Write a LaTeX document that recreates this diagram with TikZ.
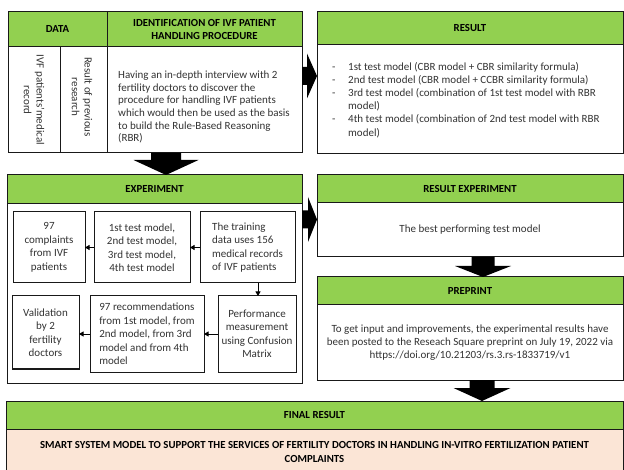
\documentclass[tikz,border=0pt]{standalone}
\usepackage{fontspec}
\setmainfont{Carlito}
\usetikzlibrary{arrows.meta,calc}
\definecolor{hgreen}{HTML}{92D050}
\definecolor{peach}{HTML}{FBE5D6}
\definecolor{txtc}{HTML}{333333}
\tikzset{
  frame/.style={draw=black!90, line width=1pt, inner sep=0pt, outer sep=0pt},
  hdr/.style={frame, fill=hgreen, font=\bfseries\fontsize{10.8}{13.5}\selectfont, text=black, align=center},
  body/.style={frame, fill=white, font=\fontsize{11}{13}\selectfont, text=txtc, align=center},
  btxt/.style={font=\fontsize{11}{12.7}\selectfont, text=txtc, inner sep=0pt},
  ibox/.style={frame, fill=white, font=\fontsize{11}{13.5}\selectfont, text=txtc, align=center},
  sarrow/.style={draw=black, line width=0.8pt, -{Triangle[length=4.5pt,width=5pt]}},
  blk/.style={fill=black},
}
\newcommand{\rbox}[6][]{\node[#1,minimum width={(#5-#3)*1pt},minimum height={(#6-#4)*1pt}] (#2) at ({(#3+#5)/2},{(#4+#6)/2})}
\newcommand{\dblk}[5]{\fill[blk] ($(#1)+(-#3,0)$) -- ($(#1)+(#3,0)$) -- ($(#2)+(#3,-#5)$) -- ($(#2)+(#4,-#5)$) -- (#2) -- ($(#2)+(-#4,-#5)$) -- ($(#2)+(-#3,-#5)$) -- cycle;}
\newcommand{\rblk}[5]{\fill[blk] ($(#1)+(0,-#3)$) -- ($(#2)+(-#5,-#3)$) -- ($(#2)+(-#5,-#4)$) -- (#2) -- ($(#2)+(-#5,#4)$) -- ($(#2)+(-#5,#3)$) -- ($(#1)+(0,#3)$) -- cycle;}
\begin{document}
\begin{tikzpicture}[x=1pt,y=-1pt]
\useasboundingbox (0,0) rectangle (624,470);
% ---------- top left ----------
\rbox[hdr]{hdata}{8}{12}{107}{47} {DATA};
\rbox[hdr]{hident}{107}{12}{302}{47} {IDENTIFICATION OF IVF PATIENT\\HANDLING PROCEDURE};
\rbox[body]{bmed}{8}{47}{60}{153} {};
\rbox[body]{bres}{60}{47}{107}{153} {};
\rbox[body]{bident}{107}{47}{302}{153} {};
\node[btxt, rotate=-90, align=center] (tmed) at (34,100) {IVF patients'medical\\record};
\node[btxt, rotate=-90, align=center] (tres) at (82,97) {Result of previous\\research};
\node[btxt, align=left, anchor=west] (tident) at (118,107) {Having an in-depth interview with 2\\fertility doctors to discover the\\procedure for handling IVF patients\\which would then be used as the basis\\to build the Rule-Based Reasoning\\(RBR)};
% ---------- result ----------
\rbox[hdr]{hres}{317}{12}{623}{45} {RESULT};
\rbox[body]{bres2}{317}{45}{623}{154} {};
\node[btxt, align=left, anchor=west, font=\fontsize{11}{13.1}\selectfont] (tres2) at (332,100) {%
\makebox[16pt][l]{-}1st test model (CBR model + CBR similarity formula)\\
\makebox[16pt][l]{-}2nd test model (CBR model + CCBR similarity formula)\\
\makebox[16pt][l]{-}3rd test model (combination of 1st test model with RBR\\
\hspace*{16pt}model)\\
\makebox[16pt][l]{-}4th test model (combination of 2nd test model with RBR\\
\hspace*{16pt}model)};
% ---------- experiment ----------
\rbox[hdr]{hexp}{7}{175}{302}{204} {EXPERIMENT};
\rbox[body]{bexp}{7}{204}{302}{383} {};
\rbox[ibox]{e1}{13}{212}{85}{283} {97\\complaints\\from IVF\\patients};
\rbox[ibox]{e2}{94}{212}{190}{283} {1st test model,\\2nd test model,\\3rd test model,\\4th test model};
\rbox[ibox, align=left]{e3}{200}{212}{295}{283} {The training\\data uses 156\\medical records\\of IVF patients};
\rbox[ibox]{e4}{12}{296}{79}{369} {Validation\\by 2\\fertility\\doctors};
\rbox[ibox, align=left]{e5}{90}{296}{204}{372} {97 recommendations\\from 1st model, from\\2nd model, from 3rd\\model and from 4th\\model};
\rbox[ibox]{e6}{218}{296}{296}{372} {Performance\\measurement\\using Confusion\\Matrix};
\draw[sarrow] (e3.west) -- (e2.east);
\draw[sarrow] (e2.west) -- (e1.east);
\draw[sarrow] (258,0 |- e3.south) -- (258,0 |- e6.north);
\draw[sarrow] (e6.west) -- (e5.east);
\draw[sarrow] (e5.west) -- (e4.east |- e5.west);
% ---------- right column ----------
\rbox[hdr]{hre}{317}{175}{623}{203} {RESULT EXPERIMENT};
\rbox[body]{bre}{317}{203}{623}{257} {The best performing test model};
\rbox[hdr]{hpp}{317}{277}{623}{305} {PREPRINT};
\rbox[body]{bpp}{317}{305}{623}{380} {To get input and improvements, the experimental results have\\been posted to the Reseach Square preprint on July 19, 2022 via\\https://doi.org/10.21203/rs.3.rs-1833719/v1};
% ---------- final ----------
\rbox[hdr, font=\bfseries\fontsize{10.8}{13.5}\selectfont]{hfin}{6}{401}{623}{429} {FINAL RESULT};
\rbox[body, fill=peach, text=black, font=\bfseries\fontsize{10.8}{14}\selectfont]{bfin}{6}{429}{623}{475} {SMART SYSTEM MODEL TO SUPPORT THE SERVICES OF FERTILITY DOCTORS IN HANDLING IN-VITRO FERTILIZATION PATIENT\\COMPLAINTS};
% ---------- block arrows ----------
\coordinate (a1s) at (166,0 |- bident.south);
\coordinate (a1e) at (166,0 |- hexp.north);
\dblk{a1s}{a1e}{15}{32.5}{15}
\coordinate (a2s) at (bident.east |- 0,76);
\coordinate (a2e) at (bres2.west |- 0,76);
\rblk{a2s}{a2e}{9}{22.5}{10}
\coordinate (a3s) at (bexp.east |- 0,219.5);
\coordinate (a3e) at (bre.west |- 0,219.5);
\rblk{a3s}{a3e}{9}{22.5}{9}
\coordinate (a4s) at (483,0 |- bre.south);
\coordinate (a4e) at (483,0 |- hpp.north);
\dblk{a4s}{a4e}{11.5}{28}{11}
\coordinate (a5s) at (482,0 |- bpp.south);
\coordinate (a5e) at (482,0 |- hfin.north);
\dblk{a5s}{a5e}{12.5}{28.5}{13}
\end{tikzpicture}
\end{document}
